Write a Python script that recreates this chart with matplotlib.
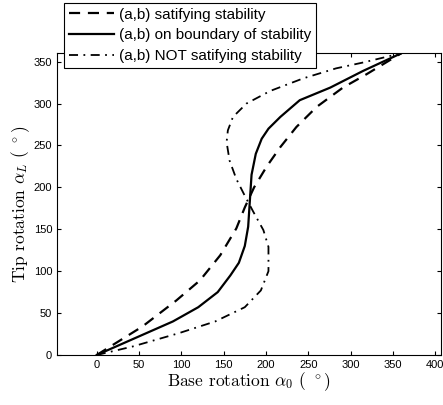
import matplotlib
matplotlib.use('Agg')
import matplotlib.pyplot as plt
import numpy as np

plt.rcParams['mathtext.fontset'] = 'cm'
plt.rcParams['font.family'] = ['Liberation Sans', 'DejaVu Sans']

# curves (base rotation, tip rotation) in degrees
dashed_x = [0, 19, 54, 94, 122, 146, 165, 175, 186, 201, 217, 236, 260, 291, 319, 360]
dashed_y = [0, 12, 34, 65, 89, 119, 151, 176, 200, 225, 248, 272, 296, 319, 335, 360]

solid_x = [0, 45, 90, 120, 143, 158, 168, 175, 179, 181, 183, 188, 195, 203, 217, 240, 276, 315, 360]
solid_y = [0, 20, 40, 57, 75, 95, 110, 130, 153, 184, 215, 240, 258, 270, 284, 304, 319, 339, 360]

dashdot_x = [0, 42, 97, 140, 175, 194, 203, 203, 197, 185, 175, 165, 157, 153.5,
             155, 161, 177, 205, 244, 283, 315, 360]
dashdot_y = [0, 10, 26, 40, 57, 77, 100, 129, 149, 171, 190, 210, 232, 254,
             268, 284, 300, 315, 330, 342, 349, 360]

labels = ['(a,b) satifying stability', '(a,b) on boundary of stability',
          '(a,b) NOT satifying stability']

fig = plt.figure(figsize=(4.43, 4.05), dpi=100)
ax = fig.add_axes([0.1287, 0.1235, 0.8668, 0.745])

l1, = ax.plot(dashed_x, dashed_y, color='k', lw=1.6, linestyle=(0, (5, 3.5)))
l2, = ax.plot(solid_x, solid_y, color='k', lw=1.6, linestyle='-')
l3, = ax.plot(dashdot_x, dashdot_y, color='k', lw=1.3, linestyle=(0, (5, 3, 1, 3)))

ax.set_xlim(-47, 407)
ax.set_ylim(0, 360)
ax.set_xticks(np.arange(0, 401, 50))
ax.set_yticks(np.arange(0, 351, 50))
ax.tick_params(direction='in', top=True, right=True, labelsize=8, length=3)

ax.set_xlabel(r'Base rotation $\alpha_0$ ( $^\circ$)', family='cmr10', fontsize=12.5, labelpad=0)
ax.set_ylabel(r'Tip rotation $\alpha_L$ ( $^\circ$)', family='cmr10', fontsize=12.5, labelpad=1)

leg = fig.legend([l1, l2, l3], labels, loc='upper left',
                 bbox_to_anchor=(0.1445, 0.9926), fontsize=11,
                 fancybox=False, edgecolor='k', framealpha=1,
                 handlelength=3.0, borderpad=0.3, labelspacing=0.45,
                 handletextpad=0.3, borderaxespad=0)
leg.get_frame().set_linewidth(0.8)

fig.savefig('out.png', dpi=100)
